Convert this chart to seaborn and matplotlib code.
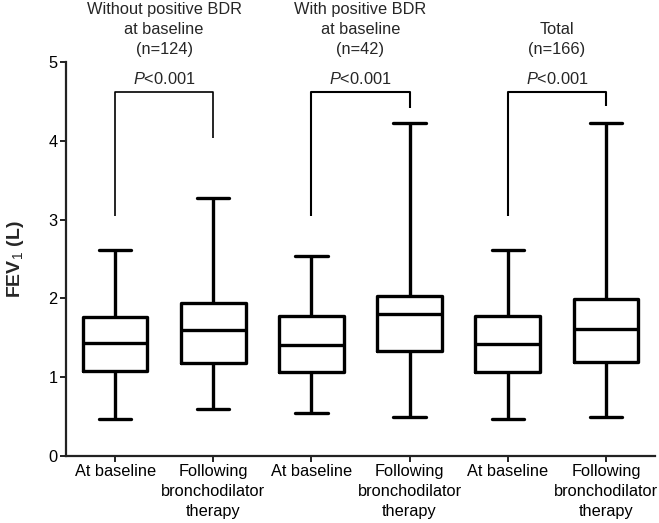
import pandas as pd
import seaborn as sns
import matplotlib
matplotlib.use('Agg')
import matplotlib.pyplot as plt

# Box summary values (FEV1, litres)
box_ids = ['wo_base', 'wo_post', 'w_base', 'w_post', 'tot_base', 'tot_post']
tick_labels = ['At baseline', 'Following\nbronchodilator\ntherapy'] * 3
mins = [0.47, 0.60, 0.55, 0.50, 0.465, 0.50]
q1s = [1.08, 1.18, 1.06, 1.33, 1.07, 1.19]
medians = [1.43, 1.60, 1.41, 1.80, 1.42, 1.61]
q3s = [1.77, 1.94, 1.78, 2.03, 1.78, 1.99]
maxs = [2.61, 3.27, 2.54, 4.23, 2.61, 4.23]

group_titles = ['Without positive BDR\nat baseline\n(n=124)',
                'With positive BDR\nat baseline\n(n=42)',
                'Total\n(n=166)']
p_labels = ['$\\it{P}$<0.001'] * 3
# bracket leg ends: (left leg bottom, right leg bottom), top
bracket_left = [3.05, 3.04, 3.04]
bracket_right = [4.04, 4.42, 4.44]
bracket_top = 4.62

# five-number summary per box -> whis=(0, 100) gives exactly these stats
rows = []
for i, b in enumerate(box_ids):
    for v in (mins[i], q1s[i], medians[i], q3s[i], maxs[i]):
        rows.append({'box': b, 'fev1': v})
df = pd.DataFrame(rows)

sns.set_style('ticks')
plt.rcParams['font.family'] = ['Liberation Sans', 'DejaVu Sans']
plt.rcParams['mathtext.fontset'] = 'custom'
plt.rcParams['mathtext.rm'] = 'Liberation Sans'
plt.rcParams['mathtext.it'] = 'Liberation Sans:italic'
plt.rcParams['mathtext.bf'] = 'Liberation Sans:bold'

fig = plt.figure(figsize=(6.59, 5.23), dpi=100)
ax = fig.add_axes([66 / 659, 1 - 456 / 523, 589 / 659, 394 / 523])

sns.boxplot(data=df, x='box', y='fev1', order=box_ids, whis=(0, 100),
            fill=False, color='black', linewidth=2.4, width=0.66, ax=ax)

ax.set_xlim(-0.5, 5.5)
ax.set_ylim(0, 5)
ax.set_yticks([0, 1, 2, 3, 4, 5])
ax.set_xticks(range(6))
ax.set_xticklabels(tick_labels, fontsize=11.8, linespacing=1.42)
ax.tick_params(axis='y', labelsize=11.8, width=1.4, length=4, pad=2, colors='#222222')
ax.tick_params(axis='x', width=1.4, length=4, pad=2, colors='#222222')
for lbl in ax.get_xticklabels() + ax.get_yticklabels():
    lbl.set_color('black')
sns.despine(ax=ax)
for s in ['left', 'bottom']:
    ax.spines[s].set_linewidth(1.6)
    ax.spines[s].set_color('#222222')

ax.set_xlabel('')
ax.set_ylabel('FEV$_1$ (L)', fontsize=14, fontweight='bold')
ax.yaxis.set_label_coords(-0.068, 0.5)

# group headers, p-values and brackets
for g in range(3):
    x0, x1 = 2 * g, 2 * g + 1
    xc = (x0 + x1) / 2
    ax.text(xc, 5.06, group_titles[g], ha='center', va='bottom',
            fontsize=11.8, linespacing=1.42, clip_on=False)
    ax.text(xc, 4.72, p_labels[g], ha='center', va='baseline', fontsize=11.8)
    ax.plot([x0, x0, x1, x1],
            [bracket_left[g], bracket_top, bracket_top, bracket_right[g]],
            color='black', linewidth=1.2 if g == 0 else 1.5, solid_capstyle='butt')

fig.savefig('out.png', dpi=100)
